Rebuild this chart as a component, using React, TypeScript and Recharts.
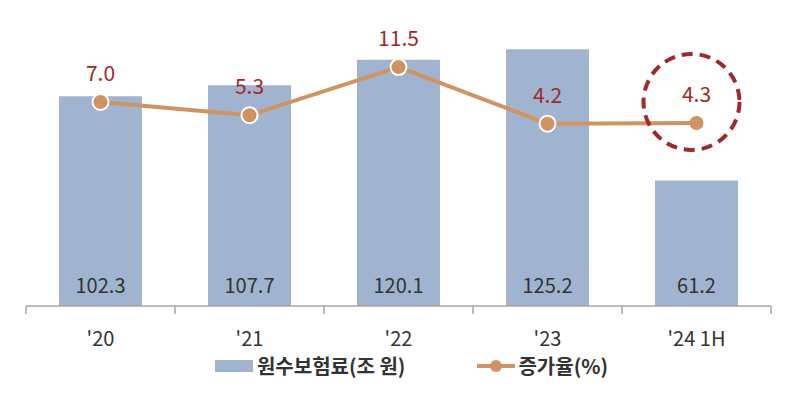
import React from 'react';
import {
  ComposedChart,
  Bar,
  Line,
  XAxis,
  YAxis,
  Legend,
  LabelList,
} from 'recharts';

const years = ["'20", "'21", "'22", "'23", "'24 1H"];
const premiums = [102.3, 107.7, 120.1, 125.2, 61.2];
const growth = [7.0, 5.3, 11.5, 4.2, 4.3];

const data = years.map((year, i) => ({
  year,
  premium: premiums[i],
  growth: growth[i],
}));

const FONT = '"Noto Sans CJK KR", "Noto Sans", sans-serif';
const BAR_COLOR = '#A0B4CF';
const LINE_COLOR = '#CF9461';
const RED = '#A3282A';
const TEXT = '#333333';
const AXIS = '#A6A6A6';

const CHART_W = 780;
const CHART_H = 386;
const MARGIN = { top: 11, right: 17, left: 18, bottom: 20 };
const STEP = (CHART_W - MARGIN.left - MARGIN.right) / years.length;

const XTick = (props: any) => {
  const { x, y, payload, index } = props;
  const half = STEP / 2;
  return (
    <g>
      <line x1={x - half} x2={x - half} y1={y} y2={y - 8} stroke={AXIS} strokeWidth={1.5} />
      {index === years.length - 1 && (
        <line x1={x + half} x2={x + half} y1={y} y2={y - 8} stroke={AXIS} strokeWidth={1.5} />
      )}
      <text x={x} y={y + 32} textAnchor="middle" fill={TEXT} fontSize={20} fontFamily={FONT}>
        {payload.value}
      </text>
    </g>
  );
};

const Dot = (props: any) => {
  const { cx, cy, index } = props;
  if (cx == null || cy == null) return null;
  if (index === years.length - 1) {
    return (
      <g>
        <circle cx={cx} cy={cy} r={7} fill={LINE_COLOR} />
        <circle
          cx={cx - 5}
          cy={cy - 21}
          r={48}
          fill="none"
          stroke={RED}
          strokeWidth={4}
          strokeDasharray="11 7"
        />
      </g>
    );
  }
  return <circle cx={cx} cy={cy} r={8} fill={LINE_COLOR} stroke="#fff" strokeWidth={2} />;
};

const LegendContent = () => (
  <div
    style={{
      display: 'flex',
      justifyContent: 'center',
      alignItems: 'center',
      gap: 72,
      fontFamily: FONT,
      fontSize: 20,
      fontWeight: 700,
      color: TEXT,
      paddingLeft: 26,
      lineHeight: '24px',
    }}
  >
    <div style={{ display: 'flex', alignItems: 'center' }}>
      <span style={{ display: 'inline-block', width: 38, height: 12, background: BAR_COLOR, marginRight: 4 }} />
      <span>원수보험료(조 원)</span>
    </div>
    <div style={{ display: 'flex', alignItems: 'center' }}>
      <svg width={38} height={14} style={{ marginRight: 3 }}>
        <line x1={0} x2={38} y1={7} y2={7} stroke={LINE_COLOR} strokeWidth={4} />
        <circle cx={19} cy={7} r={6} fill={LINE_COLOR} />
      </svg>
      <span>증가율(%)</span>
    </div>
  </div>
);

export default function App() {
  return (
    <ComposedChart width={CHART_W} height={CHART_H} data={data} margin={MARGIN}>
      <XAxis
        dataKey="year"
        height={44}
        axisLine={{ stroke: AXIS, strokeWidth: 1.5 }}
        tickLine={false}
        tick={<XTick />}
        interval={0}
      />
      <YAxis yAxisId="left" hide domain={[0, 140]} />
      <YAxis yAxisId="right" hide orientation="right" domain={[-19.3, 17.7]} />
      <Legend content={<LegendContent />} verticalAlign="bottom" wrapperStyle={{ bottom: 16 }} />
      <Bar
        yAxisId="left"
        dataKey="premium"
        name="원수보험료(조 원)"
        fill={BAR_COLOR}
        barSize={83}
        isAnimationActive={false}
      >
        <LabelList
          dataKey="premium"
          position="insideBottom"
          offset={13}
          fill={TEXT}
          fontSize={20}
          fontFamily={FONT}
          formatter={(v: any) => Number(v).toFixed(1)}
        />
      </Bar>
      <Line
        yAxisId="right"
        dataKey="growth"
        name="증가율(%)"
        stroke={LINE_COLOR}
        strokeWidth={4}
        dot={<Dot />}
        activeDot={false}
        isAnimationActive={false}
      >
        <LabelList
          dataKey="growth"
          position="top"
          offset={21}
          fill={RED}
          fontSize={21}
          fontFamily={FONT}
          formatter={(v: any) => Number(v).toFixed(1)}
        />
      </Line>
    </ComposedChart>
  );
}
